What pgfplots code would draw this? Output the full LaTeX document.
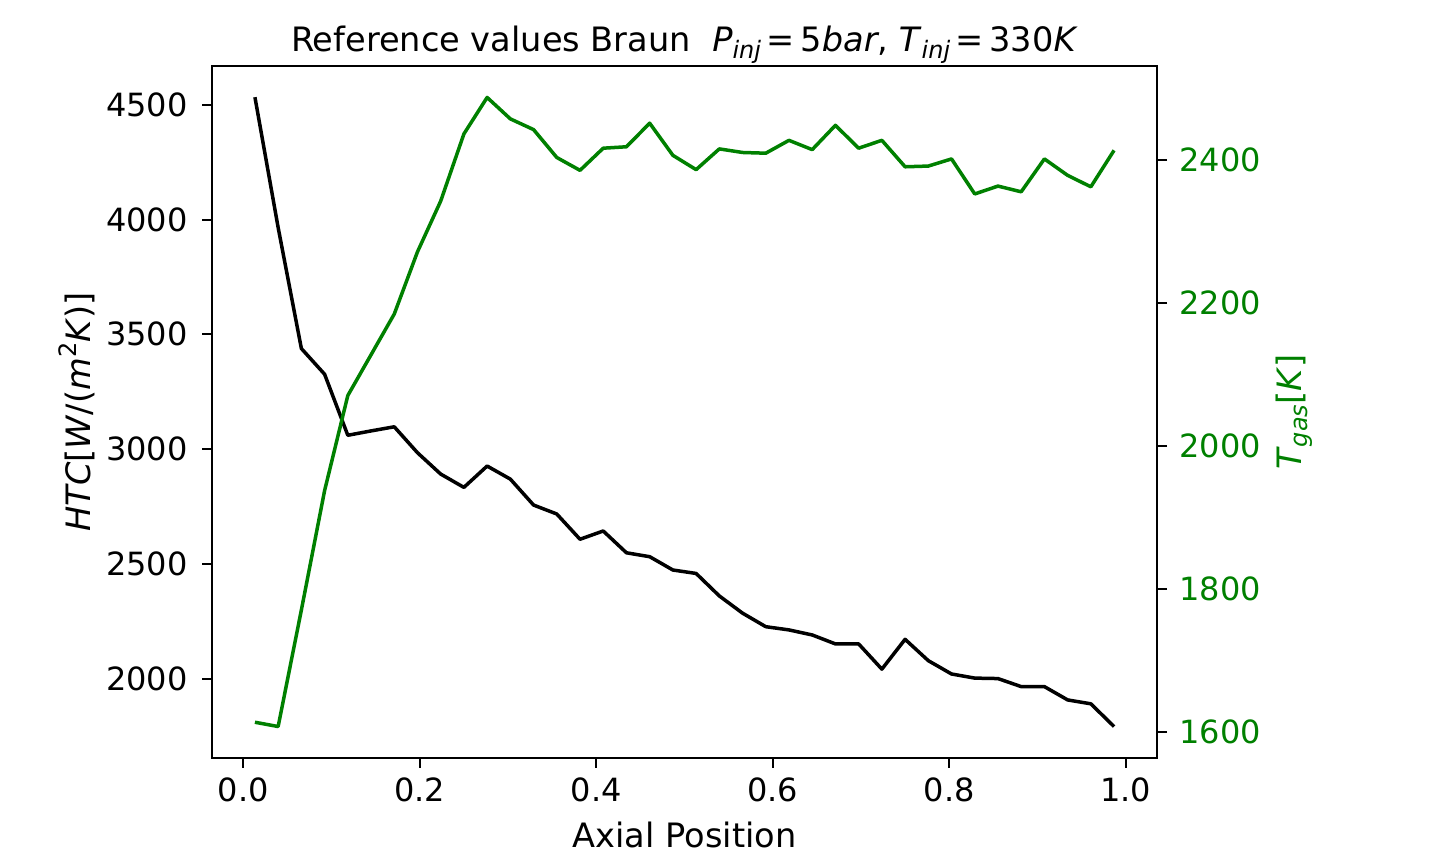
\documentclass[border=0pt]{standalone}
\usepackage{fontspec}
\setmainfont{DejaVu Sans}
\usepackage{pgfplots}
\pgfplotsset{compat=1.18}
\definecolor{mplgreen}{HTML}{008000}
\newcommand{\fs}{\fontsize{16}{19}\selectfont}
\newcommand{\fl}{\fontsize{16.8}{20}\selectfont}
\newcommand{\sub}[1]{\raisebox{-0.35ex}{\fontsize{12}{13}\selectfont\itshape #1}}
\newcommand{\sups}[1]{\raisebox{0.75ex}{\fontsize{12}{13}\selectfont #1}}

\pgfplotstableread{
x htc T
0.01316 4533 1613
0.03947 3965 1607
0.06579 3438 1770
0.09211 3326 1937
0.11842 3060 2070
0.14474 3079 2127
0.17105 3097 2184
0.19737 2984 2271
0.22368 2891 2342
0.25000 2833 2436
0.27632 2926 2487
0.30263 2869 2457
0.32895 2756 2442
0.35526 2717 2403
0.38158 2607 2385
0.40789 2643 2416
0.43421 2548 2418
0.46053 2531 2451
0.48684 2473 2406
0.51316 2458 2386
0.53947 2360 2415
0.56579 2285 2410
0.59211 2226 2409
0.61842 2212 2427
0.64474 2190 2414
0.67105 2151 2448
0.69737 2151 2416
0.72368 2041 2427
0.75000 2171 2390
0.77632 2078 2391
0.80263 2020 2401
0.82895 2002 2352
0.85526 2000 2363
0.88158 1965 2355
0.90789 1965 2401
0.93421 1907 2378
0.96053 1890 2362
0.98684 1791 2413
}\data

\begin{document}
\fs
\begin{tikzpicture}
\path[use as bounding box] (0,0) rectangle (724pt,430pt);
\begin{axis}[
  at={(106pt,51pt)}, anchor=south west,
  width=472.5pt, height=346pt, scale only axis,
  xmin=-0.0355, xmax=1.0355, ymin=1654, ymax=4669,
  xtick={0,0.2,0.4,0.6,0.8,1},
  ytick={2000,2500,3000,3500,4000,4500},
  xtick pos=bottom, ytick pos=left,
  tick align=outside, major tick length=5pt,
  axis line style={line width=1.1pt, black},
  every tick/.style={line width=1pt, black},
  /pgf/number format/assume math mode=true,
  /pgf/number format/set thousands separator={},
  xticklabel style={/pgf/number format/fixed, /pgf/number format/fixed zerofill, /pgf/number format/precision=1},
  tick label style={font=\fs, inner sep=0pt},
  yticklabel style={xshift=-7pt},
  xticklabel style={yshift=-4.5pt},
  xlabel={Axial Position},
  xlabel style={font=\fl, at={(axis description cs:0.5,0)}, anchor=base, yshift=-45pt},
  ylabel={\textit{HTC}[\textit{W}/(\textit{m}\sups{2}\textit{K})]},
  ylabel style={font=\fl, at={(axis description cs:-0.143,0.5)}, anchor=center, rotate=0},
  title={Reference values Braun\ \ \textit{P}\sub{inj}\,=\,5\textit{bar}, \textit{T}\sub{inj}\,=\,330\textit{K}},
  title style={font=\fl, at={(axis description cs:0.5,1)}, anchor=base, yshift=1pt},
]
\addplot[black, line width=1.75pt, line join=round] table[x=x, y=htc] {\data};
\end{axis}
\begin{axis}[
  at={(106pt,51pt)}, anchor=south west,
  width=472.5pt, height=346pt, scale only axis,
  xmin=-0.0355, xmax=1.0355, ymin=1563, ymax=2531,
  axis x line=none, axis y line*=right,
  ytick={1600,1800,2000,2200,2400},
  ytick pos=right,
  tick align=outside, major tick length=5pt,
  axis line style={line width=1.1pt, black},
  every tick/.style={line width=1pt, black},
  /pgf/number format/assume math mode=true,
  /pgf/number format/set thousands separator={},
  tick label style={font=\fs, inner sep=0pt, text=mplgreen},
  yticklabel style={xshift=6pt},
  ylabel={\textit{T}\sub{gas}[\textit{K}]},
  ylabel style={font=\fl, text=mplgreen, at={(axis description cs:1.145,0.5)}, anchor=center, rotate=0},
]
\addplot[mplgreen, line width=1.75pt, line join=round] table[x=x, y=T] {\data};
\end{axis}
\end{tikzpicture}
\end{document}
